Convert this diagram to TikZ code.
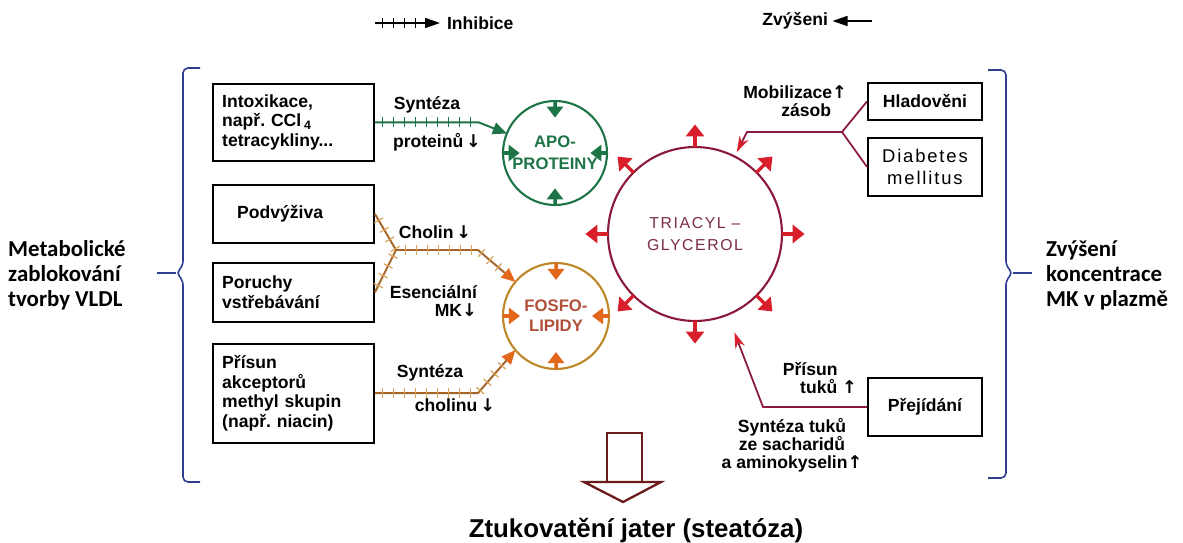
\documentclass[tikz,border=0pt]{standalone}
\usepackage{fontspec}
\setmainfont{Liberation Sans}
\newfontfamily\calfont{Carlito}
\newfontfamily\spfont[LetterSpace=10]{Liberation Sans}
\newfontfamily\arrfont{DejaVu Sans}
\usepackage{tikz}
\usetikzlibrary{arrows.meta,positioning,calc,decorations.markings}
\definecolor{apoGreen}{HTML}{1D7446}
\definecolor{fosLine}{HTML}{C0872A}
\definecolor{fosArrow}{HTML}{E2661C}
\definecolor{fosText}{HTML}{B0503A}
\definecolor{fosInh}{HTML}{A5652A}
\definecolor{fosTick}{HTML}{D9A35A}
\definecolor{triLine}{HTML}{8B1A3A}
\definecolor{triArrow}{HTML}{D81F2B}
\definecolor{triText}{HTML}{7B2B42}
\definecolor{braceBlue}{HTML}{2E3D8F}
\definecolor{bigArrow}{HTML}{6B1B1B}
\newcommand{\dn}{{\arrfont\bfseries ↓}}
\newcommand{\up}{{\arrfont\bfseries ↑}}
\frenchspacing

\begin{document}
\begin{tikzpicture}[
  x=0.02cm, y=-0.02cm,
  lbox/.style={draw, line width=1.1pt, anchor=north west, minimum width=3.22cm, text width=2.85cm, align=left, inner sep=0pt, font=\fontsize{10}{11.2}\selectfont\bfseries},
  rbox/.style={draw, line width=1.1pt, anchor=north west, minimum width=2.28cm, align=center, inner sep=0pt, font=\fontsize{10}{11}\selectfont\bfseries},
  pool/.style={circle, line width=1.2pt, inner sep=0pt, outer sep=0pt, align=center},
  lbl/.style={font=\fontsize{10}{10.3}\selectfont\bfseries, inner sep=1pt, align=center},
  side/.style={anchor=west, align=left, font=\calfont\bfseries\fontsize{13}{14.2}\selectfont},
  garr/.style={-{Triangle[length=0.22cm,width=0.32cm]}, line width=2pt, color=apoGreen},
  oarr/.style={-{Triangle[length=0.22cm,width=0.32cm]}, line width=2pt, color=fosArrow},
  rarr/.style={-{Triangle[length=0.24cm,width=0.36cm]}, line width=2pt, color=triArrow},
  crossbars/.style 2 args={postaction={decorate}, decoration={markings, mark=between positions 0.15cm and #1 step 0.22cm with {\draw[-, shorten >=0pt, line width=0.7pt, #2] (0,-0.1cm) -- (0,0.1cm);}}},
  ginh/.style={line width=1.1pt, apoGreen, -{Triangle[length=0.28cm,width=0.24cm]}, crossbars={-0.6cm}{apoGreen}},
  oinh/.style={line width=1.1pt, fosInh, -{Triangle[length=0.28cm,width=0.24cm,color=fosArrow]}, crossbars={-0.4cm}{fosTick}},
  rline/.style={line width=1pt, triLine, -{Stealth[length=0.32cm,width=0.2cm,color=triArrow]}},
  bracepath/.style={braceBlue, line width=0.9pt, rounded corners=0.1cm}
]
  \useasboundingbox (0,0) rectangle (1183,543);

  % legend
  \coordinate (inhA) at (375,23);
  \node[lbl, anchor=west] (inhlbl) at (445,23) {Inhibice};
  \draw[line width=0.9pt, -{Triangle[length=0.3cm,width=0.2cm]}, crossbars={-0.4cm}{black}, shorten >=0.1cm] (inhA) -- (inhlbl.west);
  \node[lbl, anchor=east] (zvlbl) at (830,21) {Zvýšeni};
  \coordinate (zvA) at (872,21);
  \draw[line width=0.9pt, -{Triangle[length=0.3cm,width=0.2cm]}, shorten >=0.05cm] (zvA) -- (zvlbl.east);

  % left boxes
  \node[lbox, minimum height=1.54cm] (intox) at (212,83) {Intoxikace,\\např. CCl\,\textsubscript{4}\\tetracykliny...};
  \node[lbox, minimum height=1.16cm, below=0.44cm of intox] (podv) {\hspace*{0.3cm}Podvýživa};
  \node[lbox, minimum height=1.18cm, below=0.36cm of podv] (poruchy) {Poruchy\\vstřebávání};
  \node[lbox, minimum height=1.98cm, below=0.4cm of poruchy] (prisun) {Přísun\\akceptorů\\methyl skupin\\(např. niacin)};

  % pools
  \node[pool, draw=apoGreen, minimum size=2.08cm, text=apoGreen, font=\fontsize{9.5}{12.5}\selectfont\bfseries] (apo) at (555,153) {APO-\\PROTEINY};
  \node[pool, draw=fosLine, minimum size=2.12cm, text=fosText, font=\fontsize{9.5}{11.4}\selectfont\bfseries] (fosfo) at (556,316) {FOSFO-\\LIPIDY};
  \node[pool, draw=triLine, minimum size=3.48cm, text=triText, font=\spfont\fontsize{9}{12.5}\selectfont] (tri) at (695,234) {TRIACYL –\\GLYCEROL};

  \foreach \a in {north,south,east,west} {
    \draw[garr] (apo.\a) -- ($(apo.\a)!0.32!(apo.center)$);
    \draw[oarr] (fosfo.\a) -- ($(fosfo.\a)!0.32!(fosfo.center)$);
  }
  \foreach \a in {0,45,...,315}
    \draw[rarr] (tri.\a) -- ($(tri.center)!1.26!(tri.\a)$);

  % inhibition paths
  \coordinate (gbend) at ($(intox.east)+(104,0)$);
  \draw[ginh] (intox.east) -- (gbend) -- (apo.158);
  \node[lbl] (synA) at (427,105) {Syntéza};
  \node[lbl] (protA) at (437,142) {proteinů\,\dn};

  \coordinate (cjoin) at (396,250);
  \coordinate (cbend) at (478,250);
  \coordinate (sbend) at ($(prisun.east)+(103,0)$);
  \draw[oinh] (podv.east) -- (cjoin) -- (cbend) -- (fosfo.140);
  \draw[line width=1.1pt, fosInh, crossbars={-0.05cm}{fosTick}] (poruchy.east) -- (cjoin);
  \draw[oinh] (prisun.east) -- (sbend) -- (fosfo.220);
  \node[lbl] (cholin) at (435,232) {Cholin\,\dn};
  \node[lbl, align=right, anchor=east] (esenc) at (479,301) {Esenciální\\MK\dn};
  \node[lbl] (synB) at (430,373) {Syntéza};
  \node[lbl] (cholinu) at (455,405) {cholinu\,\dn};

  % right boxes
  \node[rbox, minimum height=0.74cm] (hlad) at (867,82) {Hladověni};
  \node[rbox, minimum height=1.16cm, below=0.32cm of hlad, font=\spfont\fontsize{10.5}{12}\selectfont] (diab) {Diabetes\\mellitus};
  \node[rbox, minimum height=1.16cm] (prejid) at (867,377) {Přejídání};

  \coordinate (rjoin) at (842,132);
  \coordinate (rbend) at (747,132);
  \draw[line width=1pt, triLine] (hlad.west) -- (rjoin);
  \draw[line width=1pt, triLine] (diab.west) -- (rjoin);
  \draw[rline, shorten >=0.1cm] (rjoin) -- (rbend) -- (tri.63);
  \node[lbl, align=right, anchor=east] (mobil) at (849,101) {Mobilizace\up\\zásob\hspace*{0.9em}};

  \coordinate (pbend) at ($(prejid.west)+(-104,0)$);
  \draw[rline, shorten >=0.38cm] (prejid.west) -- (pbend) -- (tri.292);
  \node[lbl, align=right, anchor=east] (tuky) at (859,378) {Přísun\hspace*{1.1em}\\tuků \up};
  \node[lbl] (syntuk) at (792,445) {Syntéza tuků\\ze sacharidů\\a aminokyselin\up};

  % braces
  \draw[bracepath] (200,68) -- (183,68) -- (183,266) -- (176,273) -- (183,280) -- (183,482) -- (200,482);
  \draw[braceBlue, line width=0.9pt] (176,273) -- (157,273);
  \draw[bracepath] (988,70) -- (1006,70) -- (1006,266) -- (1013,273) -- (1006,280) -- (1006,478) -- (988,478);
  \draw[braceBlue, line width=0.9pt] (1013,273) -- (1032,273);
  \node[side] (metab) at (2,275) {Metabolické\\zablokování\\tvorby VLDL};
  \node[side] (zvkonc) at (1040,275) {Zvýšení\\koncentrace\\MK v plazmě};

  % result
  \draw[bigArrow, line width=1.3pt] (607,433) rectangle (642,482);
  \draw[bigArrow, line width=1.3pt] (584,482) -- (661,482) -- (623,502) -- cycle;
  \node[font=\fontsize{14.7}{17}\selectfont\bfseries] (steat) at (636,531) {Ztukovatění jater (steatóza)};
\end{tikzpicture}
\end{document}
